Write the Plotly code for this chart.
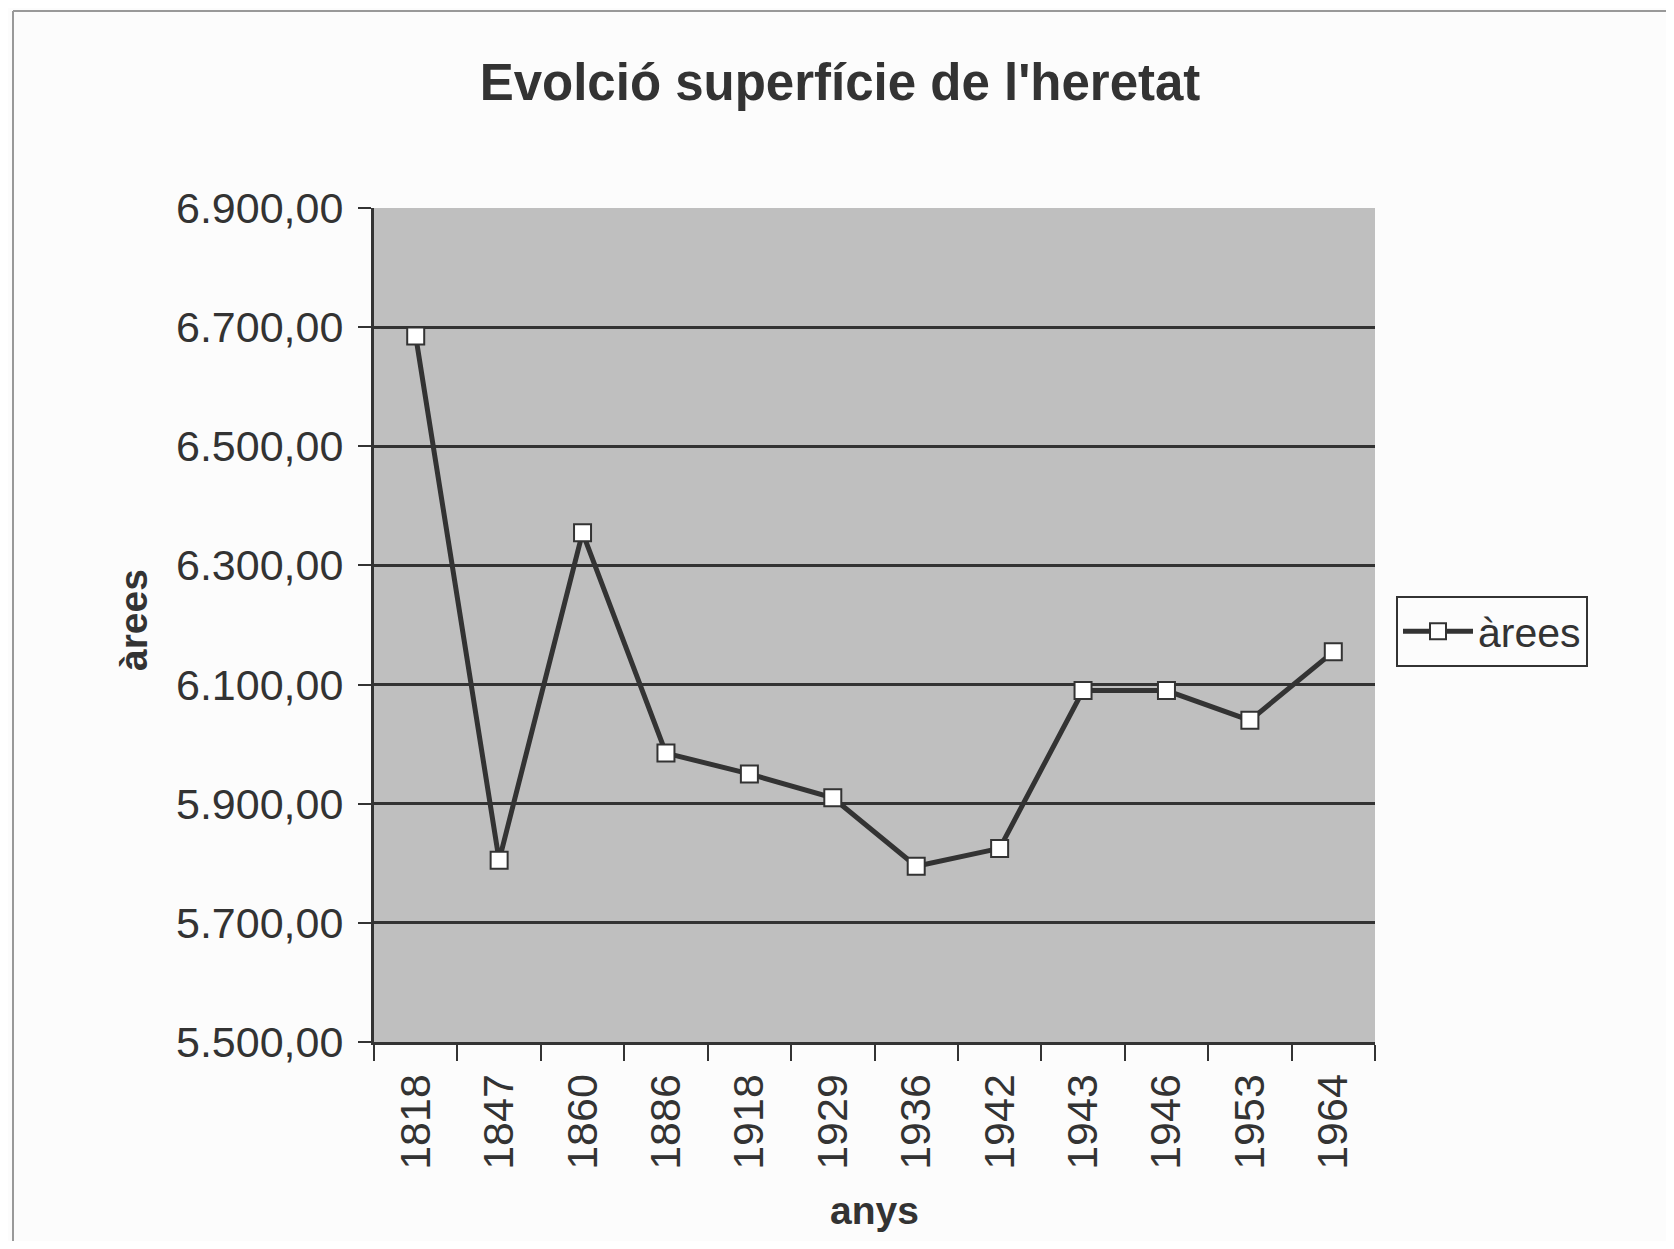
import plotly.graph_objects as go

anys = ["1818", "1847", "1860", "1886", "1918", "1929", "1936", "1942", "1943", "1946", "1953", "1964"]
arees = [6685, 5805, 6355, 5985, 5950, 5910, 5795, 5825, 6090, 6090, 6040, 6155]

# the page body has an 8px margin; the figure is sized so that it fills the window
OFF = 8
W, H = 1674 - 2 * OFF, 1249 - 2 * OFF
L, R, T, B = 374 - OFF, 1375 - OFF, 208 - OFF, 1042 - OFF


def px(xp):
    return (xp - OFF - L) / (R - L)


def py(yp):
    return (B - (yp - OFF)) / (B - T)


TXT = "#333333"
FONT = "Liberation Sans, Arial, sans-serif"

fig = go.Figure()
fig.add_trace(go.Scatter(
    x=anys, y=arees, name="àrees", mode="lines+markers",
    line=dict(color="#333333", width=5),
    marker=dict(symbol="square", size=17, color="white",
                line=dict(color="#333333", width=2)),
))

fig.update_layout(
    width=W, height=H,
    margin=dict(l=L, r=W - R, t=T, b=H - B, pad=0, autoexpand=False),
    paper_bgcolor="#fcfcfc",
    plot_bgcolor="#bfbfbf",
    separators=",.",
    font=dict(family=FONT, color=TXT, size=40),
    title=dict(text="<b>Evolció superfície de l'heretat</b>",
               x=(840 - OFF) / W, xanchor="center",
               y=1 - (82 - OFF) / H, yanchor="middle", yref="container",
               font=dict(size=51, color=TXT, family=FONT)),
    showlegend=True,
    legend=dict(x=px(1396), y=py(596),
                xanchor="left", yanchor="top",
                bgcolor="#fcfcfc", bordercolor="#333333", borderwidth=2,
                font=dict(size=41, color=TXT, family=FONT),
                itemwidth=70),
    xaxis=dict(type="category", tickangle=-90, showgrid=False,
               range=[-0.5, len(anys) - 0.5],
               showline=True, linecolor="#333333", linewidth=3,
               ticks="outside", ticklen=16, tickwidth=2, tickcolor="#333333",
               tickson="boundaries", ticklabelstandoff=12,
               tickfont=dict(size=43, color=TXT, family=FONT),
               zeroline=False),
    yaxis=dict(range=[5500, 6900], dtick=200, tick0=5500, tickformat=",.2f",
               showgrid=True, gridcolor="#333333", gridwidth=3,
               showline=True, linecolor="#333333", linewidth=3,
               ticks="outside", ticklen=13, tickwidth=2, tickcolor="#333333",
               ticklabelstandoff=6,
               tickfont=dict(size=43, color=TXT, family=FONT),
               zeroline=False),
    annotations=[
        dict(text="<b>anys</b>", xref="paper", yref="paper",
             x=px(874), y=py(1210), xanchor="center", yanchor="middle",
             showarrow=False, font=dict(size=39, color=TXT, family=FONT)),
        dict(text="<b>àrees</b>", xref="paper", yref="paper",
             x=px(133), y=py(620), xanchor="center", yanchor="middle",
             textangle=-90,
             showarrow=False, font=dict(size=39, color=TXT, family=FONT)),
    ],
    shapes=[
        dict(type="line", xref="paper", yref="paper",
             x0=px(13), x1=px(1700), y0=py(11), y1=py(11),
             line=dict(color="#999999", width=2)),
        dict(type="line", xref="paper", yref="paper",
             x0=px(13), x1=px(13), y0=py(11), y1=py(1260),
             line=dict(color="#999999", width=2)),
    ],
)

fig.write_html("out.html")
